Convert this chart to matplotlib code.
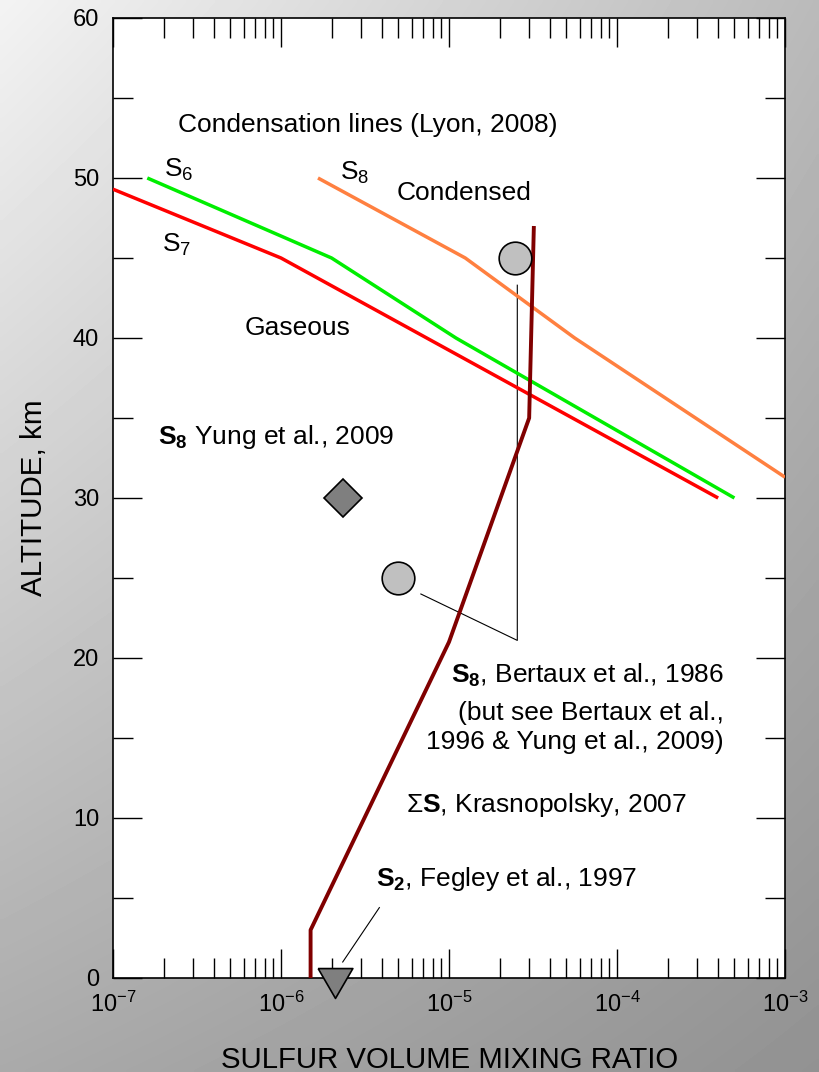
import numpy as np
import matplotlib
matplotlib.use('Agg')
import matplotlib.pyplot as plt
from matplotlib.ticker import LogLocator, MultipleLocator, FuncFormatter, NullFormatter

plt.rcParams['font.family'] = ['Liberation Sans', 'DejaVu Sans']
plt.rcParams['mathtext.fontset'] = 'custom'
plt.rcParams['mathtext.rm'] = 'Liberation Sans'
plt.rcParams['mathtext.it'] = 'Liberation Sans:italic'
plt.rcParams['mathtext.bf'] = 'Liberation Sans:bold'
plt.rcParams['mathtext.default'] = 'regular'

# ---------------- data ----------------
# Condensation lines (Lyon, 2008)
s6_x = [1.6e-7, 2.0e-6, 1.1e-5, 5.0e-4]
s6_alt = [50, 45, 40, 30]
s7_x = [1.0e-7, 1.0e-6, 4.0e-4]
s7_alt = [49.3, 45, 30]
s8_x = [1.66e-6, 1.25e-5, 5.6e-5, 1.0e-3]
s8_alt = [50, 45, 40, 31.3]
# Sigma S, Krasnopolsky 2007
ks_x = [1.5e-6, 1.5e-6, 1.0e-5, 3.0e-5, 3.2e-5]
ks_alt = [0, 3, 21, 35, 47]
# S8 Bertaux et al. 1986
bertaux_x = [2.47e-5, 5.0e-6]
bertaux_alt = [45, 25]
# S8 Yung et al. 2009
yung_x = [2.33e-6]
yung_alt = [30]
# S2 Fegley et al. 1997
fegley_x = [2.1e-6]
fegley_alt = [-0.3]

# ---------------- figure ----------------
W, H = 819, 1072
fig = plt.figure(figsize=(W / 100, H / 100), dpi=100)

# background gradient
bg = fig.add_axes([0, 0, 1, 1], zorder=-10)
u = np.linspace(0, 1, 200)
v = np.linspace(0, 1, 260)
U, V = np.meshgrid(u, v)
TL, TR, BL, BR = 243, 186, 170, 146
img = (TL * (1 - U) * (1 - V) + TR * U * (1 - V) + BL * (1 - U) * V + BR * U * V) / 255.0
bg.imshow(img, cmap='gray', vmin=0, vmax=1, aspect='auto', extent=[0, 1, 1, 0], interpolation='bilinear')
bg.set_axis_off()

ax = fig.add_axes([113 / W, 1 - 978 / H, (785 - 113) / W, (978 - 18) / H])
ax.set_facecolor('white')
ax.set_xscale('log')
ax.set_xlim(1e-7, 1e-3)
ax.set_ylim(0, 60)

for s in ax.spines.values():
    s.set_linewidth(1.2)
    s.set_color('black')

ax.xaxis.set_major_locator(LogLocator(base=10, numticks=10))
ax.xaxis.set_minor_locator(LogLocator(base=10, subs=np.arange(2, 10), numticks=20))
ax.xaxis.set_major_formatter(FuncFormatter(lambda val, pos: r'$10^{%d}$' % int(round(np.log10(val)))))
ax.xaxis.set_minor_formatter(NullFormatter())
ax.yaxis.set_major_locator(MultipleLocator(10))
ax.yaxis.set_minor_locator(MultipleLocator(5))
ax.tick_params(which='both', direction='in', top=True, right=True, width=1.0, color='black')
ax.tick_params(axis='x', which='major', length=21, labelsize=17, pad=10)
ax.tick_params(axis='x', which='minor', length=14.5)
ax.tick_params(axis='y', which='major', length=21, labelsize=17, pad=10)
ax.tick_params(axis='y', which='minor', length=14.5)

# condensation lines
ax.plot(s7_x, s7_alt, color='#ff0000', lw=2.5, solid_capstyle='butt', zorder=3)
ax.plot(s6_x, s6_alt, color='#00ee00', lw=2.5, solid_capstyle='butt', zorder=3)
ax.plot(s8_x, s8_alt, color='#ff8040', lw=2.5, solid_capstyle='butt', zorder=3)
# Krasnopolsky profile
ax.plot(ks_x, ks_alt, color='#800000', lw=2.8, solid_capstyle='butt', zorder=4)

# leader lines
ax.plot([2.55e-5, 2.55e-5, 6.8e-6], [43.3, 21.1, 24.0], color='black', lw=0.8, zorder=2)
ax.plot([3.85e-6, 2.33e-6], [4.4, 1.0], color='black', lw=0.8, zorder=2)

# markers
ax.plot(bertaux_x, bertaux_alt, 'o', ms=23.5, mfc='#c0c0c0', mec='black', mew=1.2, zorder=5, ls='none')
ax.plot(yung_x, yung_alt, 'D', ms=19.5, mfc='#7f7f7f', mec='black', mew=1.2, zorder=5, ls='none')
tri = [(-1, 0.86), (1, 0.86), (0, -0.86), (-1, 0.86)]
ax.plot(fegley_x, fegley_alt, marker=tri, ms=25, mfc='#7f7f7f', mec='black', mew=1.2,
        zorder=6, ls='none', clip_on=False)

# annotations
fs = 19
ax.text(2.44e-7, 52.9, 'Condensation lines (Lyon, 2008)', fontsize=fs, ha='left', va='baseline')
ax.text(2.0e-7, 50.05, r'S$_6$', fontsize=fs, ha='left', va='baseline')
ax.text(1.95e-7, 45.4, r'S$_7$', fontsize=fs, ha='left', va='baseline')
ax.text(2.25e-6, 49.9, r'S$_8$', fontsize=fs, ha='left', va='baseline')
ax.text(10 ** (-7 + (397 - 113) / 168), 48.6, 'Condensed', fontsize=fs, ha='left', va='baseline')
ax.text(10 ** (-7 + (245 - 113) / 168), 40.2, 'Gaseous', fontsize=fs, ha='left', va='baseline')
ax.text(10 ** (-7 + (158 - 113) / 168), 33.4, r'$\mathbf{S_8}$ Yung et al., 2009', fontsize=fs,
        ha='left', va='baseline')
xr = 10 ** (-7 + (724 - 113) / 168)
ax.text(xr, 18.46, r'$\mathbf{S_8}$, Bertaux et al., 1986', fontsize=fs, ha='right', va='baseline')
ax.text(xr, 16.1, '(but see Bertaux et al.,', fontsize=fs, ha='right', va='baseline')
ax.text(xr, 14.3, '1996 & Yung et al., 2009)', fontsize=fs, ha='right', va='baseline')
ax.text(10 ** (-7 + (406 - 113) / 168), 10.4, r'$\Sigma\mathbf{S}$, Krasnopolsky, 2007', fontsize=fs,
        ha='left', va='baseline')
ax.text(10 ** (-7 + (376 - 113) / 168), 5.75, r'$\mathbf{S_2}$, Fegley et al., 1997', fontsize=fs,
        ha='left', va='baseline')

fig.text(450 / W, 1 - 1067.5 / H, 'SULFUR VOLUME MIXING RATIO', fontsize=21.2, ha='center', va='baseline')
fig.text(42.3 / W, 1 - 497.5 / H, 'ALTITUDE, km', fontsize=21.3, ha='center', va='baseline',
         rotation=90, rotation_mode='anchor')

fig.savefig('out.png', dpi=100)
